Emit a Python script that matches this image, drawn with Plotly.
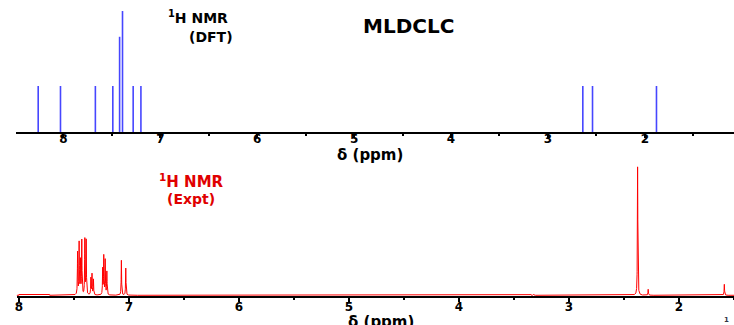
import numpy as np
import plotly.graph_objects as go

# Calculated (DFT) 1H shifts and relative intensities
dft_shift = [8.26, 8.03, 7.67, 7.49, 7.42, 7.39, 7.28, 7.20, 2.64, 2.54, 1.88]
dft_intensity = [1.0, 1.0, 1.0, 1.0, 2.07, 2.63, 1.0, 1.0, 1.0, 1.0, 1.0]

# Experimental 1H peak list (shift in ppm, height in arbitrary units)
exp_shift = [7.466, 7.452, 7.440, 7.428, 7.400, 7.388,
             7.345, 7.335, 7.322,
             7.238, 7.228, 7.215, 7.200,
             7.068, 7.028,
             3.35, 3.32,
             2.376, 2.28, 1.588]
exp_height = [33, 40, 26, 42, 43, 42,
              13, 16, 12,
              20, 30, 27, 18,
              27, 21,
              1.0, 0.8,
              100, 4.6, 8.5]
exp_width = 0.0022  # Lorentzian half width, ppm

ppm_grid = np.linspace(8.02, 1.5, 16000)
spectrum = np.zeros_like(ppm_grid)
for s, h in zip(exp_shift, exp_height):
    spectrum += h * exp_width**2 / ((ppm_grid - s) ** 2 + exp_width**2)
# slightly raised baseline at the low-field end
spectrum += np.where((ppm_grid > 7.72) & (ppm_grid < 8.0), 0.6, 0.0)

fig = go.Figure()

# DFT stick spectrum
stick_x, stick_y = [], []
for s, h in zip(dft_shift, dft_intensity):
    stick_x += [s, s, None]
    stick_y += [0, h, None]
fig.add_trace(go.Scatter(x=stick_x, y=stick_y, mode="lines",
                         line=dict(color="#4646ff", width=1.6),
                         xaxis="x", yaxis="y", showlegend=False, hoverinfo="skip"))

# Experimental spectrum
fig.add_trace(go.Scatter(x=ppm_grid, y=spectrum, mode="lines",
                         line=dict(color="#ff0000", width=1),
                         xaxis="x2", yaxis="y2", showlegend=False, hoverinfo="skip"))

FONT = "DejaVu Sans"
tick_font = dict(family=FONT, size=12, color="black", weight="bold")
common_x = dict(showgrid=False, zeroline=False, showline=True, linecolor="black",
                linewidth=2, ticks="outside", ticklen=4, tickwidth=2, tickcolor="black",
                dtick=1, tick0=0, tickfont=tick_font,
                minor=dict(dtick=0.5, ticks="outside", ticklen=2, tickwidth=2,
                           tickcolor="black", showgrid=False))
hidden_y = dict(visible=False, showgrid=False, zeroline=False)

fig.update_layout(
    width=734, height=325,
    margin=dict(l=0, r=0, t=0, b=0),
    paper_bgcolor="white", plot_bgcolor="white",
    xaxis=dict(common_x, domain=[0.019, 1.0], range=[8.49, 1.08], anchor="y",
               ticklabelstandoff=-9),
    yaxis=dict(hidden_y, domain=[0.594, 1.0], range=[0, 2.87]),
    xaxis2=dict(common_x, domain=[0.02, 1.0], range=[8.02, 1.5], anchor="y2",
                ticklabelstandoff=-5),
    yaxis2=dict(hidden_y, domain=[0.089, 0.5], range=[-0.6, 102.7]),
)

annotations = [
    dict(text="<sup>1</sup>H NMR", x=0.268, y=0.947, size=14, color="black"),
    dict(text="(DFT)", x=0.285, y=0.886, size=14, color="black"),
    dict(text="MLDCLC", x=0.555, y=0.92, size=20, color="black"),
    dict(text="δ (ppm)", x=0.503, y=0.524, size=15, color="black"),
    dict(text="<sup>1</sup>H NMR", x=0.259, y=0.443, size=15, color="#e00000"),
    dict(text="(Expt)", x=0.258, y=0.389, size=14, color="#e00000"),
    dict(text="δ (ppm)", x=0.518, y=0.01, size=15, color="black"),
    dict(text="1", x=0.99, y=0.015, size=7, color="#334"),
]
for a in annotations:
    fig.add_annotation(xref="paper", yref="paper", showarrow=False,
                       xanchor="center", yanchor="middle",
                       text=a["text"], x=a["x"], y=a["y"],
                       font=dict(family=FONT, size=a["size"], color=a["color"],
                                 weight="bold"))

fig.write_html("out.html")
